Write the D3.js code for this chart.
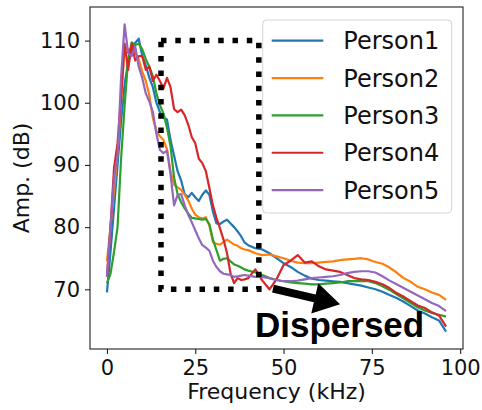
<!DOCTYPE html>
<html>
<head>
<meta charset="utf-8">
<script src="https://cdn.jsdelivr.net/npm/d3@7"></script>
<style>
  body { margin: 0; background: #fff; }
  svg { display: block; }
</style>
</head>
<body>
<script>
// frequency grid (kHz) shared by all series
const freq = [0, 1, 2, 3, 4, 5, 6, 7, 8, 9, 10, 11, 12, 13, 14, 15, 16, 17, 18, 19,
  20, 21, 22, 23, 24, 25, 26, 27, 28, 29, 30, 31, 32, 33, 34, 35, 36, 37, 38, 39,
  40, 42, 44, 46, 48, 50, 52, 54, 56, 58, 60, 62, 64, 66, 68, 70, 72, 74, 76, 78,
  80, 82, 84, 86, 88, 90, 92, 94, 96]

const person1 = [69.5, 76, 83, 90, 97, 103, 106.5, 108.5, 109.6, 110.3, 107.5, 106, 104, 102.5, 100, 98.5, 97.6, 97.3, 94, 91.5,
  89, 87.5, 85.3, 84.8, 85.5, 84.8, 84.2, 85.2, 85.9, 85.2, 82.5, 80.6, 80.5, 80.9, 81.2, 80.6, 80, 79.3, 78.5, 77.5,
  77.1, 76.6, 76.4, 75.8, 75, 74.2, 73.6, 72.8, 72.2, 71.7, 71.5, 71.4, 71.3, 71.2, 71, 70.8, 70.6, 70.3, 70, 69.6,
  69.1, 68.6, 68, 67.3, 66.6, 66.1, 65.5, 65, 63.2]
const person2 = [74.5, 80, 86, 92, 100, 109, 108.5, 108.8, 108, 107, 105, 103.5, 101.2, 97.5, 95.5, 94.6, 94, 92.5, 89, 86.8,
  86.4, 86, 85.2, 84.3, 83, 82, 81.6, 81.4, 81.6, 80.2, 77.6, 77.3, 77.2, 77.6, 78, 77.6, 77.2, 77, 76.6, 76.4,
  76.3, 75.8, 75.5, 75.6, 75.3, 75, 74.6, 74.3, 74.2, 74.2, 74.3, 74.4, 74.5, 74.7, 74.8, 74.9, 75, 74.8, 74.4, 74.1,
  73.5, 72.7, 71.8, 71.2, 70.4, 70, 69.5, 69.1, 68.3]
const person3 = [71, 72.5, 76, 80, 91, 99.5, 107, 109.7, 109.3, 109.5, 108.6, 107, 105.8, 104.3, 101.5, 99.6, 98.3, 96, 93, 88,
  85.3, 84, 83, 82.2, 81.5, 81.4, 81.3, 81.2, 81.3, 80.5, 78, 76.3, 74.6, 74.9, 75, 74.5, 74, 73.8, 73.5, 73.2,
  73, 72.7, 72.3, 71.8, 71.5, 71.3, 71.1, 71, 70.9, 70.8, 70.8, 70.9, 71, 71.1, 71.3, 71.3, 71.3, 71.3, 71, 70.5,
  69.9, 69.2, 68.5, 67.8, 67.1, 66.6, 66.2, 65.9, 65.6]
const person4 = [72, 80, 89.5, 93.5, 101, 109.5, 105.3, 109.5, 106.8, 107.5, 107.5, 105.3, 105.8, 103.5, 104.5, 103.5, 102.3, 104, 102.5, 99,
  98.5, 98.9, 98, 96.5, 94.5, 93.5, 91, 90.3, 89, 86.3, 83.5, 81.5, 79.8, 78, 75.8, 72.5, 71, 71.8, 71.5, 71.6,
  71.8, 73.2, 71.4, 70, 71.6, 73.9, 74.6, 75.5, 74.3, 74.5, 73.7, 73.2, 73, 72.8, 72.3, 71.8, 71.6, 71.5, 71.2, 70.8,
  70.2, 69.4, 68.8, 68.1, 67.4, 67, 66.3, 65.8, 64]
const person5 = [72, 80, 88, 91.5, 104, 112.6, 108, 107.5, 109, 105.8, 104, 101.5, 100.2, 98.5, 95, 92.4, 91.9, 92.3, 88.5, 83.5,
  85.2, 85.3, 83.5, 82, 80.8, 79.5, 78.2, 77.1, 76.7, 76.2, 74.6, 73.6, 72.9, 72.5, 72.4, 72.3, 72, 72.1, 72.2, 72.3,
  72.2, 72, 72, 71.8, 71.5, 71.3, 71.3, 71.4, 71.6, 71.8, 71.9, 72, 72.1, 72.3, 72.6, 72.8, 72.9, 72.9, 72.7, 72.1,
  71.4, 70.8, 70.2, 69.6, 69, 68.4, 67.8, 67.3, 66.5]

const names = ['Person1', 'Person2', 'Person3', 'Person4', 'Person5']
const colors = ['#1f77b4', '#ff7f0e', '#2ca02c', '#d62728', '#9467bd']
const series = [person1, person2, person3, person4, person5]

const xTicks = [0, 25, 50, 75, 100]
const yTicks = [70, 80, 90, 100, 110]

// dotted box and annotation, in data units
const box = { x0: 15.3, x1: 43, y0: 70, y1: 110 }
const arrowFrom = [47, 70.1]
const arrowTo = [66, 67.6]
const notePos = [41.9, 62.4]

let width = 482
let height = 410
let font = 'DejaVu Sans, sans-serif'

let svg = d3.select('body')
  .append('svg')
  .attr('width', width)
  .attr('height', height)

let x = d3.scaleLinear().domain([-4.8, 100.8]).range([90, 463])
let y = d3.scaleLinear().domain([60.4, 115.4]).range([349, 7])

// axes
let xAxis = svg.append('g')
  .attr('transform', 'translate(0,349)')
  .call(d3.axisBottom(x).tickValues(xTicks).tickSize(5).tickPadding(6).tickSizeOuter(0))
let yAxis = svg.append('g')
  .attr('transform', 'translate(90,0)')
  .call(d3.axisLeft(y).tickValues(yTicks).tickSize(5).tickPadding(5).tickSizeOuter(0))

;[xAxis, yAxis].forEach(a => {
  a.select('.domain').remove()
  a.selectAll('line').attr('stroke', '#222').attr('stroke-width', 1.1)
  a.selectAll('text')
    .attr('fill', '#111')
    .attr('font-family', font)
    .attr('font-size', '21px')
})

// lines
let line = d3.line()
  .x((d, i) => x(freq[i]))
  .y(d => y(d))

svg.selectAll('path.series')
  .data(series)
  .enter()
  .append('path')
  .attr('class', 'series')
  .attr('d', d => line(d))
  .attr('fill', 'none')
  .attr('stroke', (d, i) => colors[i])
  .attr('stroke-width', 2.2)
  .attr('stroke-linejoin', 'round')

// dotted rectangle
svg.append('path')
  .attr('d', 'M' + x(box.x0) + ',' + y(box.y1) +
    'H' + x(box.x1) + 'V' + y(box.y0) + 'H' + x(box.x0) + 'Z')
  .attr('fill', 'none')
  .attr('stroke', '#000')
  .attr('stroke-width', 5.5)
  .attr('stroke-dasharray', '5.5 8.8')

// arrow
let p0 = [x(arrowFrom[0]), y(arrowFrom[1])]
let p1 = [x(arrowTo[0]), y(arrowTo[1])]
let dx = p1[0] - p0[0]
let dy = p1[1] - p0[1]
let len = Math.sqrt(dx * dx + dy * dy)
let ux = dx / len
let uy = dy / len
let nx = -uy
let ny = ux
let headLen = 26
let headW = 15.5
let shaftW = 4
let bx = p1[0] - ux * headLen
let by = p1[1] - uy * headLen
let pts = [
  [p0[0] + nx * shaftW, p0[1] + ny * shaftW],
  [bx + nx * shaftW, by + ny * shaftW],
  [bx + nx * headW, by + ny * headW],
  p1,
  [bx - nx * headW, by - ny * headW],
  [bx - nx * shaftW, by - ny * shaftW],
  [p0[0] - nx * shaftW, p0[1] - ny * shaftW]
]
svg.append('polygon')
  .attr('points', pts.map(p => p.join(',')).join(' '))
  .attr('fill', '#000')

svg.append('text')
  .attr('x', x(notePos[0]))
  .attr('y', y(notePos[1]))
  .text('Dispersed')
  .attr('font-family', 'Liberation Sans, Arial, sans-serif')
  .attr('font-weight', 'bold')
  .attr('font-size', '35px')
  .attr('fill', '#000')

// frame
svg.append('rect')
  .attr('x', 90)
  .attr('y', 7)
  .attr('width', 373)
  .attr('height', 342)
  .attr('fill', 'none')
  .attr('stroke', '#222')
  .attr('stroke-width', 1.1)

// axis labels
svg.append('text')
  .attr('x', (90 + 463) / 2)
  .attr('y', 399)
  .attr('text-anchor', 'middle')
  .attr('font-family', font)
  .attr('font-size', '22px')
  .attr('fill', '#111')
  .text('Frequency (kHz)')

svg.append('text')
  .attr('transform', 'translate(29,' + (7 + 349) / 2 + ') rotate(-90)')
  .attr('text-anchor', 'middle')
  .attr('font-family', font)
  .attr('font-size', '22px')
  .attr('fill', '#111')
  .text('Amp. (dB)')

// legend
svg.append('rect')
  .attr('x', 262.7)
  .attr('y', 20)
  .attr('width', 189)
  .attr('height', 193)
  .attr('rx', 4)
  .attr('fill', 'rgba(255,255,255,0.8)')
  .attr('stroke', '#d5d5d5')
  .attr('stroke-width', 1)

let rows = svg.selectAll('g.item')
  .data(names)
  .enter()
  .append('g')
  .attr('class', 'item')
  .attr('transform', (d, i) => 'translate(0,' + (40.7 + i * 37.35) + ')')

rows.append('line')
  .attr('x1', 271.7)
  .attr('x2', 323.3)
  .attr('stroke', (d, i) => colors[i])
  .attr('stroke-width', 2.2)

rows.append('text')
  .attr('x', 343.3)
  .attr('dy', '0.36em')
  .text(d => d)
  .attr('font-family', font)
  .attr('font-size', '24px')
  .attr('fill', '#111')
</script>
</body>
</html>
